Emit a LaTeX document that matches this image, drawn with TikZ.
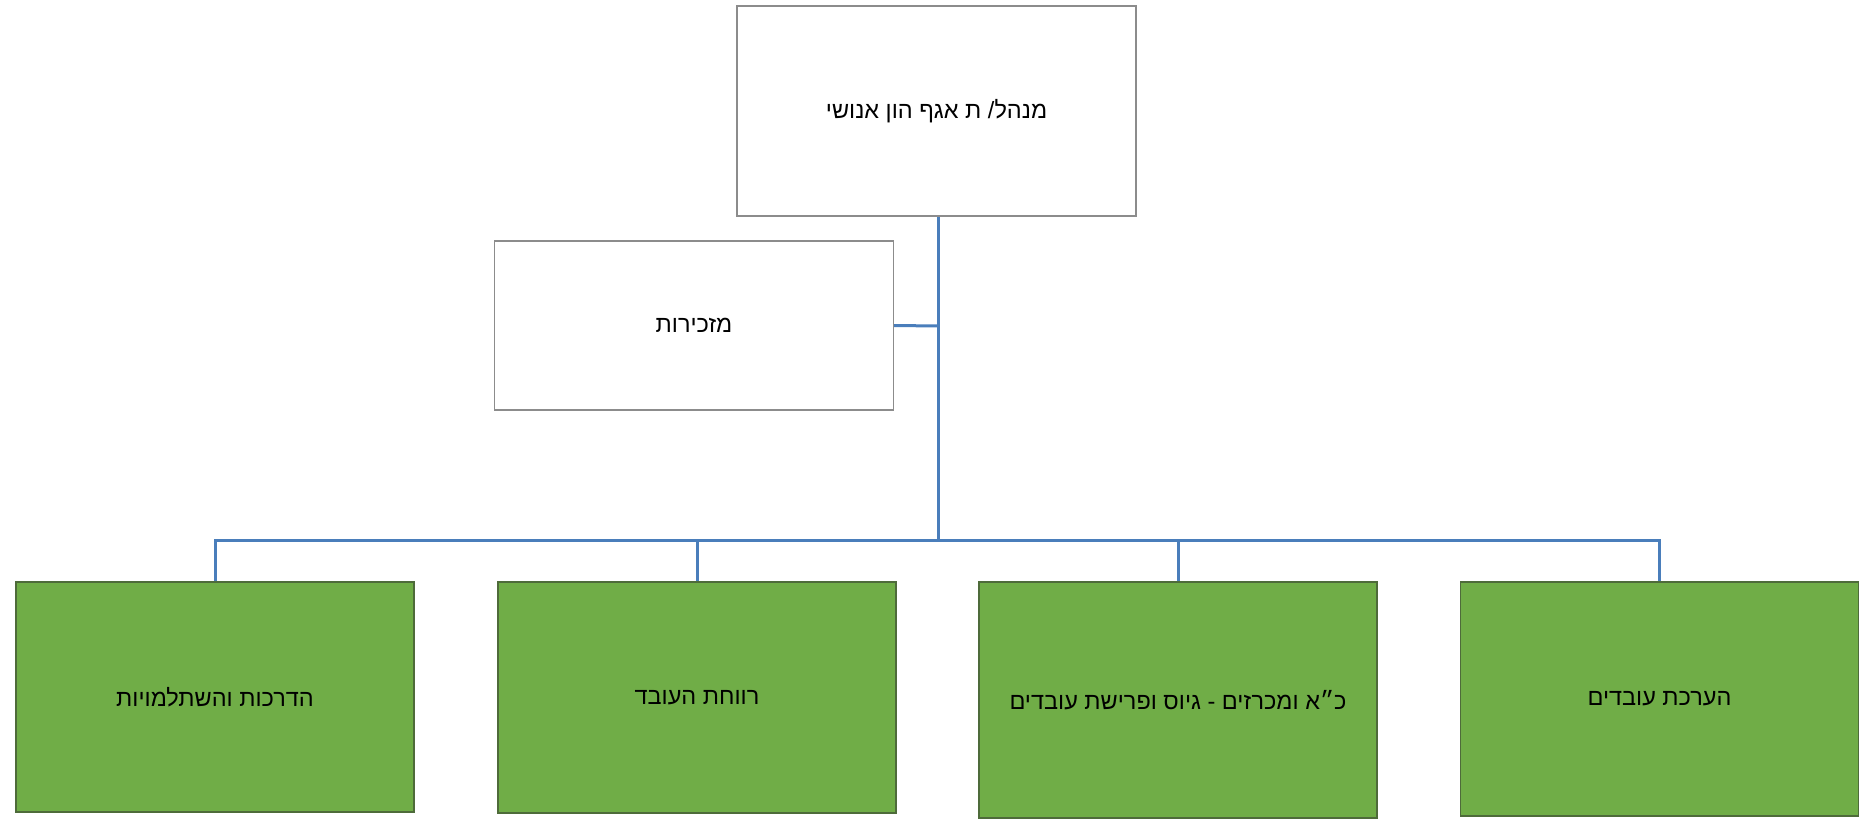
\documentclass[tikz,border=0pt]{standalone}
\usepackage{fontspec}
\newfontfamily\hebfont[Script=Hebrew]{Liberation Sans}
\TeXXeTstate=1
\definecolor{conncol}{HTML}{4A7EBB}
\definecolor{boxgreen}{HTML}{70AD47}
\definecolor{greenedge}{HTML}{4E6B3A}
\definecolor{grayedge}{HTML}{8C8C8C}
\tikzset{
  conn/.style={draw=conncol, line width=3pt},
  whitebox/.style={draw=grayedge, fill=white, line width=1.3pt, inner sep=0pt,
    minimum width=399pt, minimum height=170pt, font=\hebfont\fontsize{23.5}{27}\selectfont},
  greenbox/.style={draw=greenedge, fill=boxgreen, line width=1.3pt, inner sep=0pt,
    minimum width=398pt, font=\hebfont\fontsize{23.5}{27}\selectfont}
}
\begin{document}
\begin{tikzpicture}[x=1pt,y=-1pt]
\useasboundingbox (0,0) rectangle (1867,832);
\node[whitebox, minimum height=210pt] (top) at (936.5,111) {\beginR מנהל/ ת אגף הון אנושי\endR};
\node[whitebox, minimum height=169pt] (sec) at (694,325.5) {\beginR מזכירות\endR};
\node[greenbox, minimum height=230pt] (b1) at (215,697) {\beginR הדרכות והשתלמויות\endR};
\node[greenbox, minimum height=231pt] (b2) at (697,697.5) {\beginR רווחת העובד\endR};
\node[greenbox, minimum height=236pt] (b3) at (1178,700) {\beginR כ״א ומכרזים - גיוס ופרישת עובדים\endR};
\node[greenbox, minimum height=234pt] (b4) at (1659.5,699) {\beginR הערכת עובדים\endR};
\coordinate (bus) at (938,540);
\coordinate (junc) at (938,326);
\draw[conn] (top.south -| bus) -- (bus);
\draw[conn] (sec.east) -- (junc);
\draw[conn] (b1.north) |- (bus) -| (b4.north);
\draw[conn] (b2.north) -- (b2.north |- bus);
\draw[conn] (b3.north) -- (b3.north |- bus);
\end{tikzpicture}
\end{document}
